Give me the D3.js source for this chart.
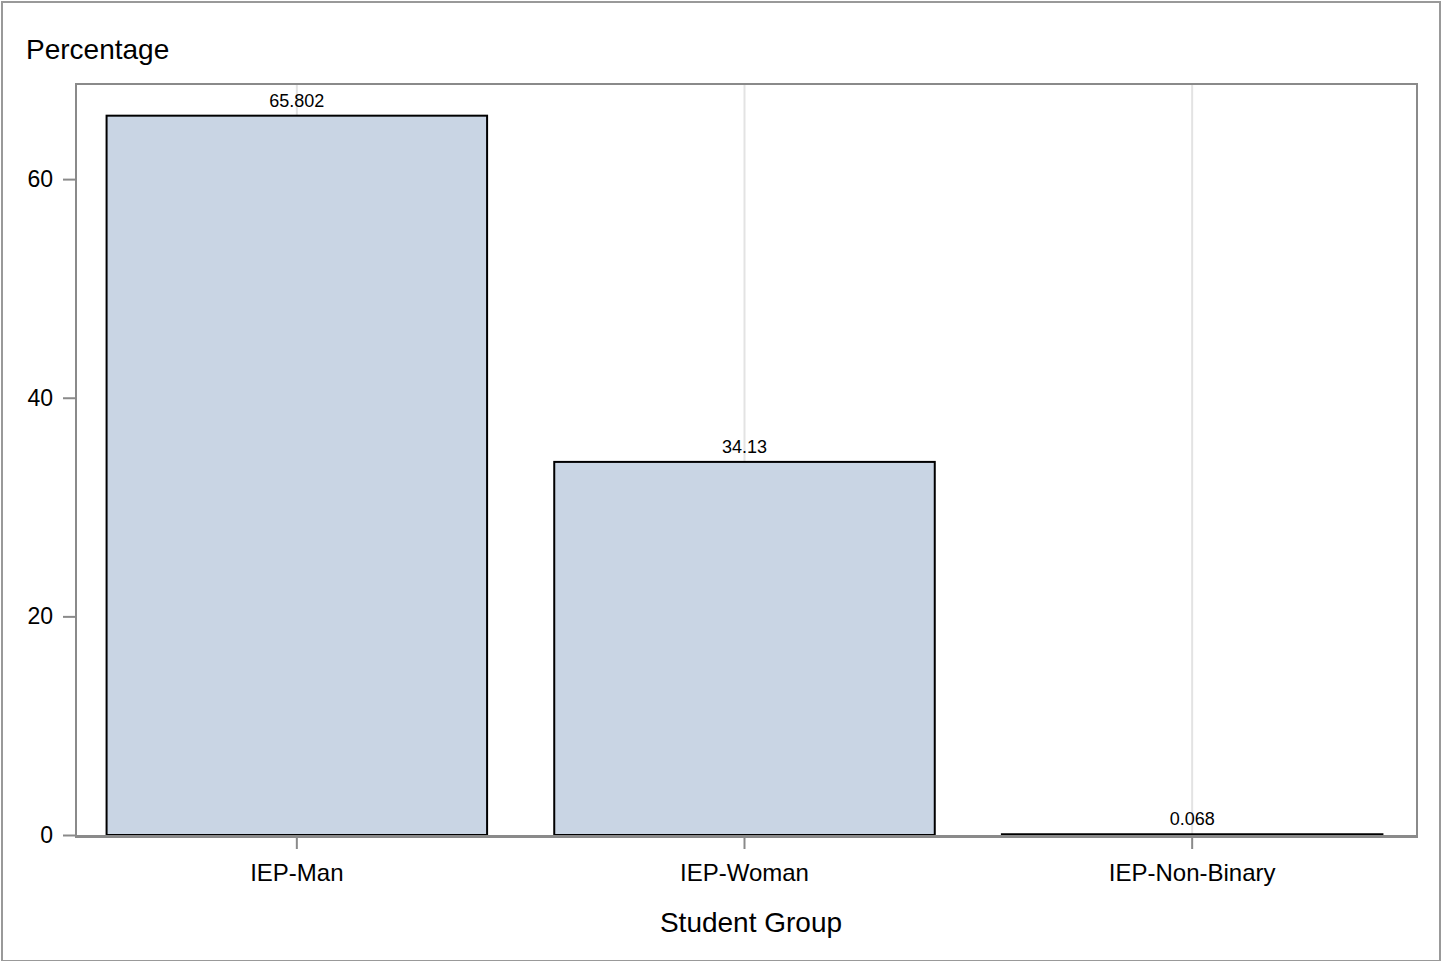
<!DOCTYPE html>
<html><head><meta charset="utf-8">
<script src="https://cdn.jsdelivr.net/npm/d3@7"></script>
<style>body{margin:0;background:#fff;} svg{display:block;font-family:"Liberation Sans",Arial,sans-serif;}</style>
</head><body>
<script>
const categories = ["IEP-Man", "IEP-Woman", "IEP-Non-Binary"];
const values = [65.802, 34.13, 0.068];
const valueLabels = ["65.802", "34.13", "0.068"];
const yTicks = [0, 20, 40, 60];

const W = 1442, H = 961;
const svg = d3.select("body").append("svg").attr("width", W).attr("height", H);
svg.append("rect").attr("x", 2).attr("y", 2).attr("width", W - 4).attr("height", H - 2)
  .attr("fill", "#fff").attr("stroke", "#999").attr("stroke-width", 2);

const L = 76, R = 1417, T = 84, B = 835;
const x = d3.scaleBand().domain(categories).range([L - 3, R - 1]).paddingInner(0.15).paddingOuter(0.075);
const y = d3.scaleLinear().domain([0, 68.7]).range([B, T]);

// gridlines
svg.append("g").selectAll("line").data(categories).join("line")
  .attr("x1", d => x(d) + x.bandwidth() / 2).attr("x2", d => x(d) + x.bandwidth() / 2)
  .attr("y1", T).attr("y2", B).attr("stroke", "#e3e3e3").attr("stroke-width", 2);

// bars
svg.append("g").selectAll("rect").data(values).join("rect")
  .attr("x", (d, i) => x(categories[i]))
  .attr("y", d => y(d))
  .attr("width", x.bandwidth())
  .attr("height", d => B - y(d))
  .attr("fill", "#c9d5e4").attr("stroke", "#000").attr("stroke-width", 2);

// value labels
svg.append("g").selectAll("text").data(values).join("text")
  .attr("x", (d, i) => x(categories[i]) + x.bandwidth() / 2)
  .attr("y", d => y(d) - 9)
  .attr("text-anchor", "middle").attr("font-size", 18).attr("fill", "#000")
  .text((d, i) => valueLabels[i]);

// frame
svg.append("rect").attr("x", L).attr("y", T).attr("width", R - L).attr("height", B - T + 1)
  .attr("fill", "none").attr("stroke", "#8a8a8a").attr("stroke-width", 2);
svg.append("line").attr("x1", L - 1).attr("x2", R + 1).attr("y1", B + 1.5).attr("y2", B + 1.5)
  .attr("stroke", "#8a8a8a").attr("stroke-width", 3);

// y axis
const yAxis = d3.axisLeft(y).tickValues(yTicks).tickSize(12).tickPadding(10).tickFormat(d3.format("d"));
const gy = svg.append("g").attr("transform", `translate(${L - 1},0)`).call(yAxis);
gy.select(".domain").remove();
gy.selectAll(".tick line").attr("stroke", "#8a8a8a").attr("stroke-width", 2);
gy.selectAll(".tick text").attr("font-size", 23).attr("fill", "#000").attr("font-family", "Liberation Sans, Arial, sans-serif");

// x axis
const xAxis = d3.axisBottom(x).tickSize(12).tickPadding(15);
const gx = svg.append("g").attr("transform", `translate(0,${B + 2})`).call(xAxis);
gx.select(".domain").remove();
gx.selectAll(".tick line").attr("stroke", "#8a8a8a").attr("stroke-width", 2);
gx.selectAll(".tick text").attr("font-size", 24).attr("fill", "#000").attr("font-family", "Liberation Sans, Arial, sans-serif");

// titles
svg.append("text").attr("x", 26).attr("y", 59).attr("font-size", 28).attr("fill", "#000").text("Percentage");
svg.append("text").attr("x", 751).attr("y", 932).attr("text-anchor", "middle").attr("font-size", 28).attr("fill", "#000").text("Student Group");
</script>
</body></html>
